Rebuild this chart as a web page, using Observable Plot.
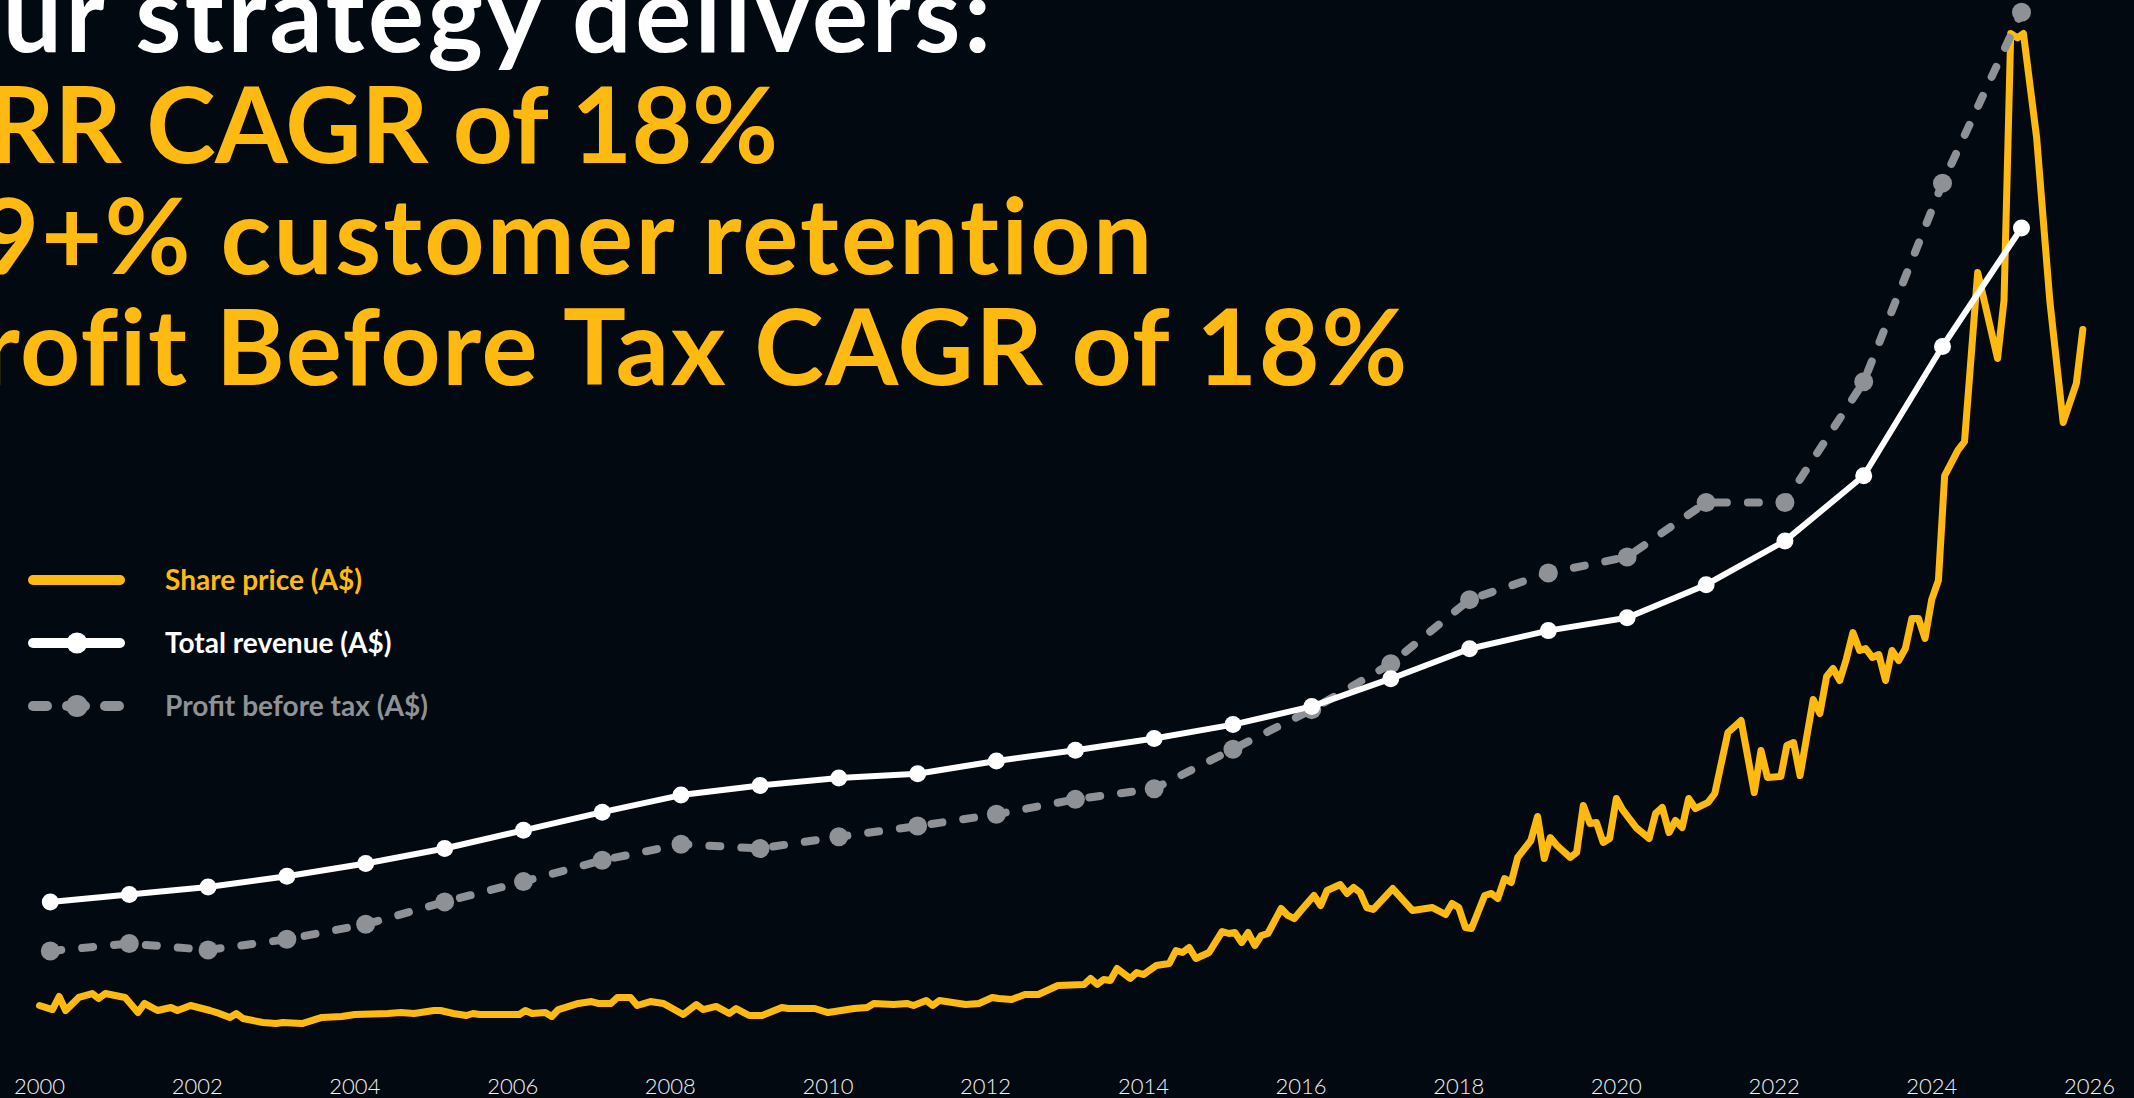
<!DOCTYPE html>
<html><head><meta charset="utf-8">
<script src="https://cdn.jsdelivr.net/npm/d3@7"></script>
<script src="https://cdn.jsdelivr.net/npm/@observablehq/plot@0.6"></script>
<style>
html,body{margin:0;padding:0;background:#020911;width:2134px;height:1098px;overflow:hidden;}
#wrap{position:relative;width:2134px;height:1098px;}
#chart,#title,#legend{position:absolute;left:0;top:0;}
</style></head><body>
<div id="wrap"><div id="chart"></div><svg id="legend" width="600" height="760"></svg><svg id="title" width="2134" height="420"></svg></div>
<script>
// ---- data (index units; no y axis in the original) ----
const revenueYears = d3.range(2000, 2026);
const revenueIdx = [15.6,16.3,17.0,18.0,19.2,20.6,22.3,24.0,25.6,26.5,27.2,27.6,28.8,29.8,30.9,32.2,33.9,36.5,39.3,41.0,42.2,45.3,49.4,55.5,67.6,78.7];
const profitIdx  = [11.0,11.7,11.1,12.1,13.5,15.6,17.5,19.5,21.0,20.6,21.7,22.7,23.8,25.2,26.2,29.9,33.6,37.9,43.9,46.4,47.9,53.0,53.0,64.3,82.9,98.9];
const priceDates = ["2000-01","2000-03","2000-04","2000-05","2000-07","2000-09","2000-10","2000-11","2001-02","2001-04","2001-05","2001-07","2001-09","2001-10","2001-12",
"2002-03","2002-04","2002-06","2002-07","2002-08","2002-11","2003-01","2003-02","2003-05","2003-08","2003-11","2004-01","2004-06","2004-08","2004-10",
"2005-01","2005-02","2005-04","2005-06","2005-07","2005-08","2006-02","2006-03","2006-04","2006-06","2006-07","2006-08","2006-11","2007-01","2007-02",
"2007-04","2007-05","2007-07","2007-08","2007-10","2007-12","2008-03","2008-05","2008-06","2008-08","2008-10","2008-11","2009-01","2009-03","2009-06",
"2009-07","2009-11","2010-01","2010-02","2010-05","2010-07","2010-08","2010-11","2011-01","2011-02","2011-04","2011-05","2011-06","2011-08","2011-10",
"2011-12","2012-02","2012-03","2012-05","2012-07","2012-09","2012-12","2013-04","2013-05","2013-06","2013-07","2013-08","2013-09","2013-11","2013-12",
"2014-01","2014-03","2014-05","2014-06","2014-07","2014-08","2014-09","2014-11","2015-01","2015-02","2015-03","2015-04","2015-05","2015-06","2015-07",
"2015-08","2015-10","2015-11","2015-12","2016-01","2016-03","2016-04","2016-05","2016-07","2016-08","2016-09","2016-10","2016-11","2016-12","2017-03",
"2017-06","2017-09","2017-11","2017-12","2018-01","2018-02","2018-03","2018-05","2018-06","2018-07","2018-08","2018-09","2018-10","2018-12","2019-01",
"2019-02","2019-03","2019-04","2019-06","2019-07","2019-08","2019-09","2019-10","2019-11","2019-12","2020-01","2020-02","2020-04","2020-06","2020-07",
"2020-08","2020-09","2020-10","2020-11","2020-12","2021-01","2021-03","2021-04","2021-06","2021-08","2021-10","2021-11","2021-12","2022-02","2022-03",
"2022-04","2022-05","2022-07","2022-08","2022-09","2022-10","2022-11","2022-12","2023-01","2023-02","2023-03","2023-04","2023-05","2023-06","2023-07",
"2023-08","2023-09","2023-10","2023-11","2023-12","2024-01","2024-02","2024-03","2024-05","2024-06","2024-08","2024-11","2024-12","2025-01","2025-02",
"2025-03","2025-05","2025-07","2025-09","2025-11","2025-12"];
const priceValues = [5.90,5.52,6.74,5.43,6.65,7.02,6.55,7.02,6.65,5.24,6.09,5.43,5.71,5.43,5.90,
5.43,5.24,4.78,5.15,4.68,4.31,4.21,4.31,4.21,4.78,4.87,5.06,5.15,5.24,5.15,
5.43,5.43,5.15,4.96,5.15,5.06,5.06,5.43,5.15,5.24,4.87,5.52,6.09,6.27,6.09,
6.09,6.65,6.65,5.90,6.27,6.09,5.06,5.99,5.52,5.81,5.15,5.62,4.96,4.96,5.71,
5.62,5.62,5.24,5.34,5.62,5.71,6.09,5.99,6.09,5.90,6.37,5.90,6.37,6.18,5.99,
6.09,6.65,6.55,6.46,6.93,6.93,7.77,7.87,8.43,7.87,8.33,8.24,9.36,8.43,8.99,
8.80,9.64,9.83,11.05,10.86,11.33,10.30,10.86,12.83,12.64,12.73,11.80,12.73,11.52,12.45,
12.64,14.98,14.33,14.04,14.79,16.20,15.26,16.67,17.23,16.39,16.95,16.48,15.07,14.89,16.85,
14.79,15.07,14.42,15.45,15.07,13.20,13.11,16.20,16.39,15.92,17.79,17.42,19.76,21.35,23.60,
19.66,21.63,20.88,19.76,20.22,24.63,22.94,23.03,21.16,21.54,25.28,24.16,22.57,21.54,23.88,
24.44,22.10,23.22,22.57,25.28,24.34,24.91,25.75,31.46,32.58,25.84,29.78,27.25,27.34,30.24,
30.52,27.43,34.55,33.24,36.70,37.45,36.33,38.30,40.82,39.14,39.33,38.48,38.76,36.33,39.14,
38.20,39.33,42.13,42.13,40.26,43.91,45.69,55.52,57.87,58.71,74.53,66.48,71.91,96.91,96.50,
96.91,87.17,71.91,60.49,64.14,69.19];
const xTickYears = d3.range(2000, 2027, 2);
const titleLines = ["Our strategy delivers:", "ARR CAGR of 18%", "99+% customer retention", "Profit Before Tax CAGR of 18%"];
const legendLabels = ["Share price (A$)", "Total revenue (A$)", "Profit before tax (A$)"];

// ---- styles ----
const YELLOW = "#ffba12", WHITE = "#ffffff", GREY = "#8e9195";
const FONT = "Lato, 'Noto Sans', sans-serif";

const parseMonth = d3.utcParse("%Y-%m");
const priceData = priceDates.map((d, i) => ({date: parseMonth(d), value: priceValues[i]}));
const revData = revenueYears.map((y, i) => ({date: new Date(Date.UTC(y, 1, 20)), value: revenueIdx[i]}));
const profitData = revenueYears.map((y, i) => ({date: new Date(Date.UTC(y, 1, 20)), value: profitIdx[i]}));
const xTicks = xTickYears.map(y => new Date(Date.UTC(y, 0, 1)));

const chart = Plot.plot({
  width: 2134, height: 1098,
  marginLeft: 39, marginRight: 45, marginTop: 0, marginBottom: 30,
  style: {background: "transparent", fontFamily: FONT, fontSize: "22px", color: "#f0f0f0", overflow: "visible"},
  x: {type: "utc", domain: [new Date(Date.UTC(2000, 0, 1)), new Date(Date.UTC(2026, 0, 1))]},
  y: {domain: [0, 100], axis: null},
  marks: [
    Plot.axisX(xTicks, {tickSize: 0, tickPadding: 10, tickFormat: d3.utcFormat("%Y"), fill: "#f0f0f0", fontWeight: 300}),
    Plot.line(priceData, {x: "date", y: "value", stroke: YELLOW, strokeWidth: 7, strokeLinejoin: "round", strokeLinecap: "round"}),
    Plot.line(profitData, {x: "date", y: "value", stroke: GREY, strokeWidth: 8, strokeDasharray: "11,21", strokeLinecap: "round"}),
    Plot.dot(profitData, {x: "date", y: "value", r: 9.5, fill: GREY}),
    Plot.line(revData, {x: "date", y: "value", stroke: WHITE, strokeWidth: 6, strokeLinejoin: "round"}),
    Plot.dot(revData, {x: "date", y: "value", r: 8.5, fill: WHITE})
  ]
});
document.getElementById("chart").appendChild(chart);

// ---- legend ----
const leg = d3.select("#legend");
const rowY = [580, 643, 706];
const legColors = [YELLOW, WHITE, GREY];
const g0 = leg.append("g");
g0.append("line").attr("x1", 33).attr("x2", 120).attr("y1", rowY[0]).attr("y2", rowY[0]).attr("stroke", YELLOW).attr("stroke-width", 10).attr("stroke-linecap", "round");
g0.append("line").attr("x1", 33).attr("x2", 120).attr("y1", rowY[1]).attr("y2", rowY[1]).attr("stroke", WHITE).attr("stroke-width", 10).attr("stroke-linecap", "round");
g0.append("circle").attr("cx", 77).attr("cy", rowY[1]).attr("r", 10.5).attr("fill", WHITE);
[[33, 47], [67, 85], [105, 119]].forEach(([a, b]) => g0.append("line").attr("x1", a).attr("x2", b).attr("y1", rowY[2]).attr("y2", rowY[2]).attr("stroke", GREY).attr("stroke-width", 10).attr("stroke-linecap", "round"));
g0.append("circle").attr("cx", 77).attr("cy", rowY[2]).attr("r", 11).attr("fill", GREY);
const legText = leg.selectAll("text.l").data(legendLabels).join("text").attr("class", "l")
  .attr("x", 165).attr("y", (d, i) => rowY[i] + 10)
  .attr("fill", (d, i) => legColors[i])
  .attr("font-family", FONT).attr("font-weight", 700).attr("font-size", 26).text(d => d);

// ---- title ----
const TITLE_LEFT = -85, TITLE_SIZE = 105;
const titleRight = [991, 778, 1154, 1406];
const tsvg = d3.select("#title");
const tText = tsvg.selectAll("text").data(titleLines).join("text")
  .attr("x", TITLE_LEFT)
  .attr("y", (d, i) => 52 + i * 111)
  .attr("fill", (d, i) => i === 0 ? WHITE : YELLOW)
  .attr("font-family", FONT).attr("font-weight", 700).attr("font-size", TITLE_SIZE)
  .text(d => d);

function fit() {
  tText.style("letter-spacing", "0px");
  tText.each(function(d, i) {
    const w = this.getComputedTextLength();
    const ls = (titleRight[i] - TITLE_LEFT - w) / (d.length - 1);
    d3.select(this).style("letter-spacing", ls + "px");
  });
  legText.attr("font-size", 26);
  const targets = [199, 228, 259];
  let ratio = 0;
  legText.nodes().forEach((n, i) => { ratio += targets[i] / n.getComputedTextLength(); });
  legText.attr("font-size", 26 * ratio / 3);
}
fit();
if (document.fonts && document.fonts.ready) document.fonts.ready.then(fit);
</script>
</body></html>
